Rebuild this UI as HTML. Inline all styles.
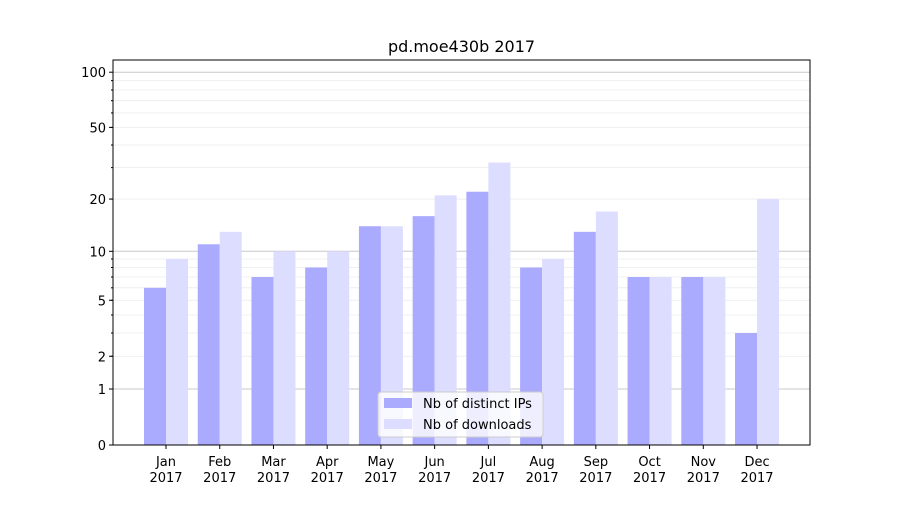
<!DOCTYPE html>
<html><head><meta charset="utf-8"><style>
body{margin:0;background:#fff;font-family:"Liberation Sans","DejaVu Sans",sans-serif}
svg text{font-family:"DejaVu Sans","Liberation Sans",sans-serif}
</style></head><body>
<svg id="chart" width="900" height="500" xmlns="http://www.w3.org/2000/svg">
<rect width="900" height="500" fill="#fff"/>
<text x="461.5" y="52" text-anchor="middle" font-size="16">pd.moe430b 2017</text>
<g id="grid"></g><g id="bars"></g><g id="axes"></g>
</svg>
<script>
const months=["Jan","Feb","Mar","Apr","May","Jun","Jul","Aug","Sep","Oct","Nov","Dec"];
const distinctIPs=[6,11,7,8,14,16,22,8,13,7,7,3];
const downloads=[9,13,10,10,14,21,32,9,17,7,7,20];
const yTickVals=[0,1,2,5,10,20,50,100];
const NS="http://www.w3.org/2000/svg";
const L=113,R=810,T=60,B=445;
function y(v){return B-186*Math.log10(1+v);}
function x(i){return 166+i*53.73;}
function mk(tag,attrs,parent,text){const e=document.createElementNS(NS,tag);for(const k in attrs)e.setAttribute(k,attrs[k]);if(text!==undefined)e.textContent=text;parent.appendChild(e);return e;}
const grid=document.getElementById('grid'),bars=document.getElementById('bars'),axes=document.getElementById('axes');
const minor=[];for(let d=2;d<=9;d++){minor.push(d);minor.push(d*10);}
minor.forEach(v=>{const gl=mk('line',{x1:L,x2:R,y1:y(v),y2:y(v),stroke:'#ebebeb','stroke-width':0.8},grid);

});
[1,10,100].forEach(v=>{const gl=mk('line',{x1:L,x2:R,y1:y(v),y2:y(v),stroke:'#c8c8c8','stroke-width':1},grid);

});
months.forEach((m,i)=>{
const b1=mk('rect',{x:x(i)-22,y:y(distinctIPs[i]),width:22,height:B-y(distinctIPs[i]),fill:'#aaaaff'},bars);


const b2=mk('rect',{x:x(i),y:y(downloads[i]),width:22,height:B-y(downloads[i]),fill:'#ddddff'},bars);


mk('line',{x1:x(i),x2:x(i),y1:B,y2:B+4,stroke:'#000'},axes);
const t1=mk('text',{x:x(i),y:B+21,'text-anchor':'middle','font-size':13},axes,m);


const t2=mk('text',{x:x(i),y:B+37,'text-anchor':'middle','font-size':13},axes,'2017');


});
yTickVals.forEach(v=>{mk('line',{x1:L-4,x2:L,y1:y(v),y2:y(v),stroke:'#000'},axes);
const t=mk('text',{x:L-7,y:y(v)+5,'text-anchor':'end','font-size':13},axes,String(v));

});
minor.forEach(v=>mk('line',{x1:L-2,x2:L,y1:y(v),y2:y(v),stroke:'#000'},axes));
const fr=mk('rect',{x:L,y:T,width:R-L,height:B-T,fill:'none',stroke:'#000'},axes);


const lg=mk('g',{},axes);


mk('rect',{x:378,y:392,width:165,height:45,rx:3,fill:'#fff','fill-opacity':0.8,stroke:'#ccc'},lg);
mk('rect',{x:384,y:398,width:28,height:10,fill:'#aaaaff'},lg);
mk('text',{x:423,y:408,'font-size':13},lg,'Nb of distinct IPs');
mk('rect',{x:384,y:419,width:28,height:10,fill:'#ddddff'},lg);
mk('text',{x:423,y:429,'font-size':13},lg,'Nb of downloads');
</script>
</body></html>
